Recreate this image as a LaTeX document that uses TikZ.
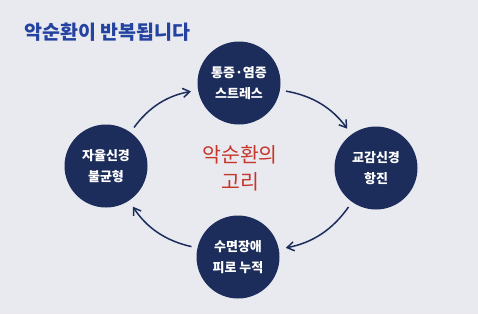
\documentclass[tikz,border=0pt]{standalone}
\usepackage{fontspec}
\setmainfont{Noto Sans CJK KR}
\usetikzlibrary{arrows.meta,positioning}
\definecolor{bgcol}{HTML}{E8EAF0}
\definecolor{navy}{HTML}{1C2D5B}
\definecolor{titleblue}{HTML}{2443A0}
\definecolor{loopred}{HTML}{C8352B}

\begin{document}
\begin{tikzpicture}[x=1pt, y=-1pt,
    stage/.style={circle, fill=navy, text=white, minimum size=83pt, inner sep=0pt, align=center,
      font=\fontsize{13}{21}\selectfont\bfseries},
    cyc/.style={draw=navy, line width=1.5pt, -{Straight Barb[length=2.4mm, width=3.2mm]}, shorten <=6pt, shorten >=7pt}]
    \fill[bgcol] (0,0) rectangle (478,314);
    \useasboundingbox (0,0) rectangle (478,314);
    \node (title) [anchor=west, text=titleblue, font=\fontsize{19.5}{24}\selectfont\bfseries, inner sep=0pt] at (24,32) {악순환이 반복됩니다};
    \node (stress) [stage] at (239,83) {통증·염증\\스트레스};
    \node (symp) [stage] at (376,168) {교감신경\\항진};
    \node (sleep) [stage] at (238,257) {수면장애\\피로 누적};
    \node (auto) [stage] at (106,166) {자율신경\\불균형};
    \node (loop) [text=loopred, align=center, font=\fontsize{20.5}{27}\selectfont] at (240,168) {악순환의\\고리};
    \draw[cyc] (auto) to[bend left=22] (stress);
    \draw[cyc] (stress) to[bend left=22] (symp);
    \draw[cyc] (symp) to[bend left=22] (sleep);
    \draw[cyc] (sleep) to[bend left=22] (auto);
  \end{tikzpicture}
\end{document}
